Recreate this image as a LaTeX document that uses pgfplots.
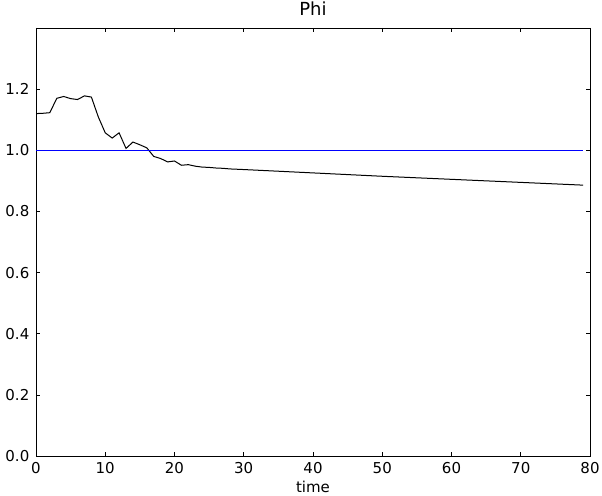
\documentclass[border=0pt]{standalone}
\usepackage{pgfplots}
\pgfplotsset{compat=1.18}
\usepackage{fontspec}
\setmainfont{DejaVu Sans}
\definecolor{mplblue}{RGB}{0,0,255}
\begin{document}
\fontsize{15}{18}\selectfont
\begin{tikzpicture}
\begin{axis}[
  scale only axis,
  width=554pt, height=428pt,
  xmin=0, xmax=80, ymin=0, ymax=1.4,
  xtick={0,10,...,80},
  ytick={0,0.2,0.4,0.6,0.8,1.0,1.2},
  yticklabel style={xshift=-1.5pt},
  yticklabel={\pgfmathprintnumber[fixed,fixed zerofill,precision=1]{\tick}},
  /pgf/number format/assume math mode=true,
  tick align=inside,
  major tick length=4pt,
  tick style={black, line width=0.6pt},
  axis line style={black, line width=0.8pt},
  title={\fontsize{18}{21}\selectfont Phi},
  title style={anchor=base, at={(axis description cs:0.5,1)}, yshift=6pt},
  xlabel={time},
  xlabel style={anchor=base, at={(axis description cs:0.5,0)}, yshift=-36pt},
  xticklabel style={anchor=base, yshift=-17pt},
  ticklabel style={font=\fontsize{15}{18}\selectfont},
  label style={font=\fontsize{15}{18}\selectfont},
]
\addplot[black, line width=1pt] coordinates {
(0,1.120) (1,1.121) (2,1.123) (3,1.170) (4,1.176) (5,1.169) (6,1.166) (7,1.178) (8,1.174)
(9,1.109) (10,1.057) (11,1.040) (12,1.057) (13,1.006) (14,1.027) (15,1.018) (16,1.008)
(17,0.980) (18,0.973) (19,0.962) (20,0.965) (21,0.951) (22,0.953) (23,0.948) (24,0.945)
(25,0.944) (26,0.942) (27,0.941) (28,0.939) (30,0.937) (40,0.926) (50,0.915) (60,0.905)
(70,0.895) (79,0.886)
};
\addplot[draw=mplblue, line width=1pt] coordinates {(0,1) (79,1)};
\end{axis}
\pgfresetboundingbox
\useasboundingbox ([shift={(-36pt,-39pt)}]current axis.south west) rectangle ([shift={(12pt,28pt)}]current axis.north east);
\end{tikzpicture}
\end{document}
